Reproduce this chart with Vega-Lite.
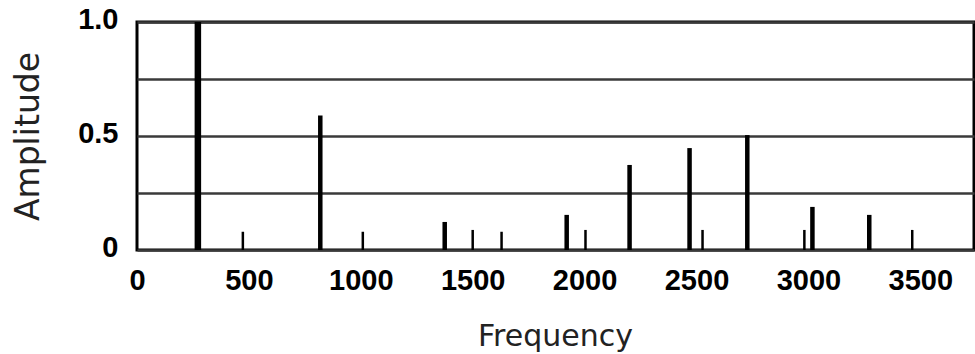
{
  "$schema": "https://vega.github.io/schema/vega-lite/v6.json",
  "width": 837,
  "height": 228,
  "autosize": {"type": "none"},
  "padding": {"left": 137, "top": 22, "right": 1, "bottom": 104},
  "background": "white",
  "config": {
    "view": {"stroke": "black", "strokeWidth": 3}
  },
  "data": {
    "values": [
      {"frequency": 272, "amplitude": 1.0},
      {"frequency": 473, "amplitude": 0.08},
      {"frequency": 819, "amplitude": 0.59},
      {"frequency": 1009, "amplitude": 0.08},
      {"frequency": 1375, "amplitude": 0.123},
      {"frequency": 1500, "amplitude": 0.088},
      {"frequency": 1629, "amplitude": 0.08},
      {"frequency": 1920, "amplitude": 0.154},
      {"frequency": 2004, "amplitude": 0.088},
      {"frequency": 2201, "amplitude": 0.373},
      {"frequency": 2469, "amplitude": 0.447},
      {"frequency": 2527, "amplitude": 0.088},
      {"frequency": 2727, "amplitude": 0.504},
      {"frequency": 2982, "amplitude": 0.088},
      {"frequency": 3018, "amplitude": 0.189},
      {"frequency": 3272, "amplitude": 0.154},
      {"frequency": 3464, "amplitude": 0.088}
    ]
  },
  "mark": {"type": "rule", "color": "black"},
  "encoding": {
    "x": {
      "field": "frequency",
      "type": "quantitative",
      "scale": {"domain": [0, 3740], "nice": false, "zero": true},
      "axis": {
        "title": "Frequency",
        "values": [0, 500, 1000, 1500, 2000, 2500, 3000, 3500],
        "format": "d",
        "grid": false,
        "ticks": false,
        "domain": false,
        "labelFlush": false,
        "labelOverlap": false,
        "labelFont": "Liberation Sans",
        "labelFontWeight": "bold",
        "labelFontSize": 29,
        "labelColor": "black",
        "labelBaseline": "alphabetic",
        "labelPadding": 39,
        "titleFont": "DejaVu Sans",
        "titleFontSize": 30,
        "titleFontWeight": "normal",
        "titleColor": "#222",
        "titleX": 418,
        "titleY": 95,
        "titleBaseline": "alphabetic"
      }
    },
    "y": {
      "field": "amplitude",
      "type": "quantitative",
      "scale": {"domain": [0, 1], "nice": false},
      "axis": {
        "title": "Amplitude",
        "values": [0, 0.25, 0.5, 0.75, 1],
        "labelExpr": "datum.value == 0.25 || datum.value == 0.75 ? '' : (datum.value == 0 ? '0' : format(datum.value, '.1f'))",
        "grid": true,
        "gridColor": "#3a3a3a",
        "gridWidth": 2.5,
        "gridOpacity": 1,
        "ticks": false,
        "domain": false,
        "labelFont": "Liberation Sans",
        "labelFontWeight": "bold",
        "labelFontSize": 29,
        "labelColor": "black",
        "labelPadding": 19,
        "labelOffset": -3,
        "labelOverlap": false,
        "labelFlush": false,
        "titleFont": "DejaVu Sans",
        "titleFontSize": 33,
        "titleFontWeight": "normal",
        "titleColor": "#222",
        "titleX": -109,
        "titleY": 114,
        "titleBaseline": "middle"
      }
    },
    "y2": {"datum": 0},
    "strokeWidth": {
      "field": "amplitude",
      "type": "quantitative",
      "scale": {"type": "threshold", "domain": [0.1, 0.9], "range": [2.5, 4.5, 6.5]},
      "legend": null
    }
  }
}
